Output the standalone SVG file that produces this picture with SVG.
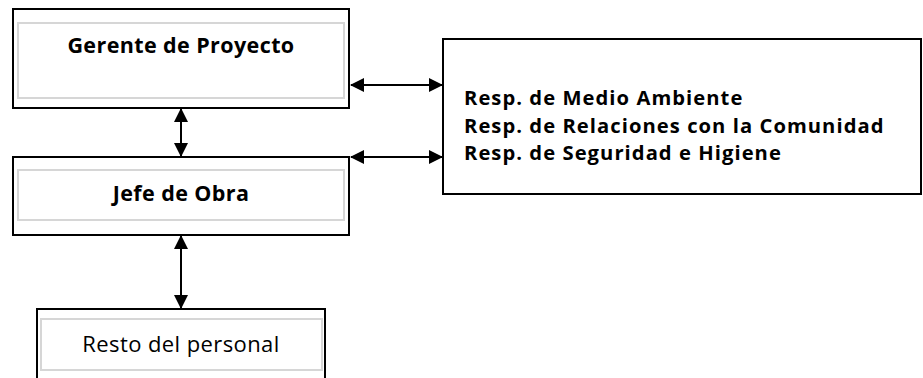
<svg xmlns="http://www.w3.org/2000/svg" width="923" height="378" viewBox="0 0 923 378">
<style>
.box{fill:#fff;stroke:#000;stroke-width:2}
.inner{fill:#fff;stroke:#d6d6d6;stroke-width:2}
.t{font-family:"Open Sans","Liberation Sans",sans-serif;font-size:21.5px;letter-spacing:0.4px;fill:#000}
.b{font-weight:bold}
.r{font-size:22px}
.s{font-size:20.2px;letter-spacing:1.05px}
.c{text-anchor:middle}
.conn{stroke:#000;stroke-width:2;fill:none;marker-start:url(#ah);marker-end:url(#ah)}
</style>
<defs>
<marker id="ah" viewBox="0 0 14 14" refX="13" refY="7" markerWidth="14" markerHeight="14" markerUnits="userSpaceOnUse" orient="auto-start-reverse">
<path d="M0,0 L14,7 L0,14 Z" fill="#000"/>
</marker>
</defs>
<rect width="923" height="378" fill="#fff"/>
<g id="gerente">
<rect class="box" x="13" y="9" width="336" height="99"/>
<rect class="inner" x="18" y="23" width="326" height="75"/>
<text class="t b c" x="181" y="53">Gerente de Proyecto</text>
</g>
<g id="jefe">
<rect class="box" x="13" y="157" width="336" height="78"/>
<rect class="inner" x="18" y="170" width="326" height="50"/>
<text class="t b c" x="181" y="201">Jefe de Obra</text>
</g>
<g id="resto">
<rect class="box" x="37" y="309" width="288" height="80"/>
<rect class="inner" x="41" y="319" width="281" height="51"/>
<text class="t r c" x="181" y="352">Resto del personal</text>
</g>
<g id="responsables">
<rect class="box" x="443" y="39" width="478" height="155"/>
<text class="t b s" x="464" y="105">Resp. de Medio Ambiente</text>
<text class="t b s" x="464" y="132.5">Resp. de Relaciones con la Comunidad</text>
<text class="t b s" x="464" y="160">Resp. de Seguridad e Higiene</text>
</g>
<g id="connectors">
<line class="conn" x1="351" y1="85" x2="442" y2="85"/>
<line class="conn" x1="351" y1="157" x2="442" y2="157"/>
<line class="conn" x1="181" y1="109" x2="181" y2="156"/>
<line class="conn" x1="181" y1="236" x2="181" y2="308"/>
</g>
</svg>
